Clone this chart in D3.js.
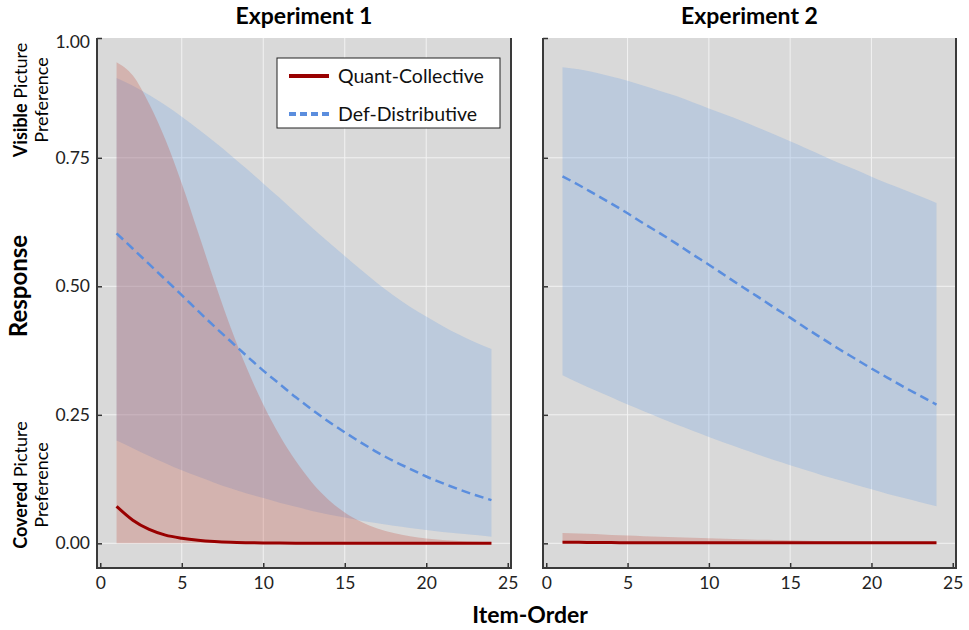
<!DOCTYPE html>
<html>
<head>
<meta charset="utf-8">
<script src="https://cdn.jsdelivr.net/npm/d3@7"></script>
<style>
  body { margin: 0; background: #fff; }
  text { font-family: Lato, "Open Sans", sans-serif; }
</style>
</head>
<body>
<div id="chart"></div>
<script>
// item order (x) shared by every series
const items = [1,2,3,4,5,6,7,8,9,10,11,12,13,14,15,16,17,18,19,20,21,22,23,24];

// Experiment 1
const e1QuantFit = [0.072,0.045,0.027,0.016,0.010,0.006,0.0035,0.002,0.0012,0.0007,0.0004,0.0002,0.0001,0,0,0,0,0,0,0,0,0,0,0];
const e1QuantHi  = [0.936,0.91,0.855,0.785,0.70,0.605,0.51,0.42,0.34,0.27,0.21,0.16,0.118,0.085,0.06,0.042,0.029,0.02,0.014,0.0095,0.0065,0.0045,0.003,0.002];
const e1QuantLo  = [0,0,0,0,0,0,0,0,0,0,0,0,0,0,0,0,0,0,0,0,0,0,0,0];
const e1DefFit = [0.603,0.573,0.543,0.513,0.483,0.452,0.422,0.393,0.364,0.336,0.310,0.284,0.260,0.237,0.216,0.196,0.177,0.160,0.145,0.130,0.117,0.105,0.094,0.084];
const e1DefHi  = [0.905,0.89,0.872,0.852,0.83,0.806,0.781,0.755,0.728,0.70,0.672,0.643,0.614,0.586,0.559,0.532,0.506,0.482,0.46,0.441,0.423,0.406,0.391,0.378];
const e1DefLo  = [0.20,0.185,0.17,0.156,0.142,0.13,0.118,0.107,0.097,0.088,0.079,0.071,0.063,0.056,0.05,0.044,0.039,0.034,0.03,0.026,0.022,0.019,0.016,0.013];

// Experiment 2
const e2QuantFit = [0.002,0.002,0.0015,0.0015,0.001,0.001,0.001,0.001,0.001,0.001,0.001,0.001,0.001,0.001,0.001,0.001,0.001,0.001,0.001,0.001,0.001,0.001,0.001,0.001];
const e2QuantHi  = [0.02,0.019,0.018,0.016,0.015,0.014,0.013,0.012,0.011,0.010,0.009,0.008,0.007,0.0065,0.006,0.005,0.0045,0.004,0.0035,0.003,0.0025,0.002,0.002,0.0015];
const e2QuantLo  = [0,0,0,0,0,0,0,0,0,0,0,0,0,0,0,0,0,0,0,0,0,0,0,0];
const e2DefFit = [0.714,0.697,0.679,0.661,0.642,0.622,0.603,0.583,0.562,0.542,0.521,0.500,0.480,0.459,0.439,0.418,0.398,0.378,0.359,0.340,0.322,0.304,0.287,0.270];
const e2DefHi  = [0.926,0.922,0.916,0.908,0.90,0.89,0.88,0.87,0.858,0.846,0.834,0.822,0.809,0.796,0.782,0.768,0.754,0.740,0.727,0.713,0.70,0.688,0.675,0.662];
const e2DefLo  = [0.327,0.312,0.298,0.284,0.270,0.257,0.244,0.231,0.219,0.207,0.195,0.184,0.173,0.162,0.152,0.142,0.132,0.123,0.114,0.105,0.096,0.088,0.080,0.072];

const xTicks = [0, 5, 10, 15, 20, 25];
const yTicks = [0, 0.25, 0.5, 0.75, 1];
const panelTitles = ["Experiment 1", "Experiment 2"];
const seriesNames = ["Quant-Collective", "Def-Distributive"];

const W = 969, H = 630;
const plotTop = 38, plotBottom = 568;
const panels = [
  {x0: 97, x1: 511, title: panelTitles[0], labels: true,
   quant: {fit: e1QuantFit, lo: e1QuantLo, hi: e1QuantHi},
   def: {fit: e1DefFit, lo: e1DefLo, hi: e1DefHi}},
  {x0: 543, x1: 956, title: panelTitles[1], labels: false,
   quant: {fit: e2QuantFit, lo: e2QuantLo, hi: e2QuantHi},
   def: {fit: e2DefFit, lo: e2DefLo, hi: e2DefHi}}
];

const redLine = "#990000", redFill = "#c0392b";
const blueLine = "#5b8ede", blueFill = "#6a9fe3";

const svg = d3.select("#chart").append("svg")
  .attr("width", W)
  .attr("height", H);

const y = d3.scaleLinear().domain([-0.048, 0.983]).range([plotBottom, plotTop]).clamp(true);

panels.forEach(function(p) {
  const x = d3.scaleLinear().domain([-0.2, 25.2]).range([p.x0, p.x1]);
  const g = svg.append("g");

  // panel background
  g.append("rect")
    .attr("x", p.x0).attr("y", plotTop)
    .attr("width", p.x1 - p.x0).attr("height", plotBottom - plotTop)
    .attr("fill", "#d9d9d9");

  // grid
  g.selectAll(".vgrid").data(xTicks.filter(d => d > 0 && d < 25)).enter().append("line")
    .attr("x1", d => x(d)).attr("x2", d => x(d))
    .attr("y1", plotTop).attr("y2", plotBottom)
    .attr("stroke", "#f2f2f2").attr("stroke-width", 1);
  g.selectAll(".hgrid").data(yTicks.filter(d => d < 1)).enter().append("line")
    .attr("x1", p.x0).attr("x2", p.x1)
    .attr("y1", d => y(d)).attr("y2", d => y(d))
    .attr("stroke", "#f2f2f2").attr("stroke-width", 1);

  const area = d3.area()
    .x((d, i) => x(items[i]))
    .y0(d => y(d[0]))
    .y1(d => y(d[1]))
    .curve(d3.curveMonotoneX);
  const line = d3.line()
    .x((d, i) => x(items[i]))
    .y(d => y(d))
    .curve(d3.curveMonotoneX);

  // ribbons
  g.append("path")
    .datum(p.def.lo.map((v, i) => [v, p.def.hi[i]]))
    .attr("d", area)
    .attr("fill", blueFill).attr("fill-opacity", 0.26);
  g.append("path")
    .datum(p.quant.lo.map((v, i) => [v, p.quant.hi[i]]))
    .attr("d", area)
    .attr("fill", redFill).attr("fill-opacity", 0.24);

  // fitted lines
  g.append("path")
    .datum(p.quant.fit)
    .attr("d", line)
    .attr("fill", "none").attr("stroke", redLine).attr("stroke-width", 3);
  g.append("path")
    .datum(p.def.fit)
    .attr("d", line)
    .attr("fill", "none").attr("stroke", blueLine).attr("stroke-width", 2.5)
    .attr("stroke-dasharray", "9,5");

  // axes
  const xAxis = g.append("g")
    .attr("transform", `translate(0, ${plotBottom})`)
    .call(d3.axisBottom(x).tickValues(xTicks).tickSize(-5).tickPadding(9));
  xAxis.select(".domain").remove();
  xAxis.selectAll("line").attr("stroke", "#333").attr("stroke-width", 1.5);
  xAxis.selectAll("text").attr("font-size", 17.5).attr("fill", "#222");

  const yAxis = g.append("g")
    .attr("transform", `translate(${p.x0}, 0)`)
    .call(d3.axisLeft(y).tickValues(yTicks).tickSize(-5).tickPadding(7).tickFormat(d3.format(".2f")));
  yAxis.select(".domain").remove();
  yAxis.selectAll("line").attr("stroke", "#333").attr("stroke-width", 1.5);
  yAxis.selectAll("text")
    .attr("font-size", 17.5).attr("fill", "#222")
    .attr("y", d => d === 1 ? 4 : 0);
  if (!p.labels) yAxis.selectAll("text").remove();

  // frame: left, bottom, right
  g.append("path")
    .attr("d", `M${p.x0},${plotTop}V${plotBottom}H${p.x1}V${plotTop}`)
    .attr("fill", "none").attr("stroke", "#3a3a3a").attr("stroke-width", 2);

  // panel title
  svg.append("text")
    .attr("x", (p.x0 + p.x1) / 2).attr("y", 24)
    .attr("text-anchor", "middle")
    .attr("font-size", 23).attr("font-weight", "bold")
    .text(p.title);
});

// legend
const leg = svg.append("g").attr("transform", "translate(277, 58)");
leg.append("rect")
  .attr("width", 223).attr("height", 70)
  .attr("fill", "#fff").attr("stroke", "#222").attr("stroke-width", 1);
const legStyles = [
  {color: redLine, dash: null, w: 4},
  {color: blueLine, dash: "7,4", w: 4}
];
seriesNames.forEach(function(name, i) {
  const ly = 18 + i * 38;
  leg.append("line")
    .attr("x1", 12).attr("x2", 52).attr("y1", ly).attr("y2", ly)
    .attr("stroke", legStyles[i].color).attr("stroke-width", legStyles[i].w)
    .attr("stroke-dasharray", legStyles[i].dash);
  leg.append("text")
    .attr("x", 61).attr("y", ly).attr("dy", "0.35em")
    .attr("font-size", 19.5).attr("fill", "#111")
    .text(name);
});

// axis titles
svg.append("text")
  .attr("x", 530).attr("y", 623)
  .attr("text-anchor", "middle")
  .attr("font-size", 23).attr("font-weight", "bold")
  .text("Item-Order");

svg.append("text")
  .attr("transform", "translate(27, 286) rotate(-90)")
  .attr("text-anchor", "middle")
  .attr("font-size", 24).attr("font-weight", "bold")
  .text("Response");

// end labels along the y axis
function sideLabel(cy, strong) {
  const t = svg.append("text")
    .attr("transform", `translate(27, ${cy}) rotate(-90)`)
    .attr("text-anchor", "middle")
    .attr("font-size", 18);
  t.append("tspan").attr("font-weight", "bold").text(strong);
  t.append("tspan").text(" Picture");
  svg.append("text")
    .attr("transform", `translate(48, ${cy}) rotate(-90)`)
    .attr("text-anchor", "middle")
    .attr("font-size", 18)
    .text("Preference");
}
sideLabel(100, "Visible");
sideLabel(485, "Covered");
</script>
</body>
</html>
